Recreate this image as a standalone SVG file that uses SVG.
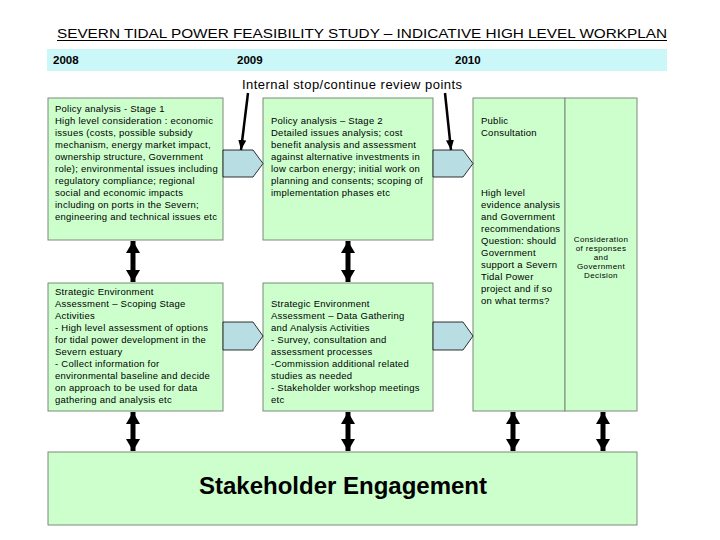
<svg xmlns="http://www.w3.org/2000/svg" width="720" height="540" viewBox="0 0 720 540">
<defs>
<style>
text{font-family:"Liberation Sans",Arial,sans-serif;fill:#000}
.box{fill:#ccffcc;stroke:#7a8a7a;stroke-width:1}
.chev{fill:#b8dde3;stroke:#000;stroke-width:0.8}
.t{font-size:9.5px;letter-spacing:0.25px}
.s{font-size:8px;letter-spacing:0.4px}
.dbl{stroke:#000;stroke-width:5;marker-start:url(#hs);marker-end:url(#he)}
.rev{stroke:#000;stroke-width:2.5;marker-end:url(#ra)}
</style>
<marker id="he" markerUnits="userSpaceOnUse" viewBox="0 0 12 14" refX="12" refY="7" markerWidth="12" markerHeight="14" orient="auto"><path d="M0,0L12,7L0,14Z" fill="#000"/></marker>
<marker id="hs" markerUnits="userSpaceOnUse" viewBox="0 0 12 14" refX="0" refY="7" markerWidth="12" markerHeight="14" orient="auto"><path d="M12,0L0,7L12,14Z" fill="#000"/></marker>
<marker id="ra" markerUnits="userSpaceOnUse" viewBox="0 0 10 8" refX="10" refY="4" markerWidth="10" markerHeight="8" orient="auto"><path d="M0,0L10,4L0,8Z" fill="#000"/></marker>
</defs>
<rect width="720" height="540" fill="#fff"/>
<g id="title">
<text x="57" y="38" font-size="13.5" textLength="610" lengthAdjust="spacingAndGlyphs">SEVERN TIDAL POWER FEASIBILITY STUDY – INDICATIVE HIGH LEVEL WORKPLAN</text>
<line x1="57" y1="40.5" x2="667" y2="40.5" stroke="#000" stroke-width="1"/>
</g>
<g id="timeline">
<rect x="47" y="49" width="620" height="22" fill="#ccf7f9"/>
<text x="53" y="64" font-size="11.5" font-weight="bold">2008</text>
<text x="237" y="64" font-size="11.5" font-weight="bold">2009</text>
<text x="455" y="64" font-size="11.5" font-weight="bold">2010</text>
</g>
<g id="review-label">
<text x="242" y="89" font-size="13" textLength="220" lengthAdjust="spacing">Internal stop/continue review points</text>
</g>
<g id="policy1">
<rect class="box" x="48" y="98" width="175" height="142"/>
<text class="t" x="55" y="112">Policy analysis - Stage 1</text>
<text class="t" x="55" y="124">High level consideration : economic</text>
<text class="t" x="55" y="136">issues (costs, possible subsidy</text>
<text class="t" x="55" y="148">mechanism, energy market impact,</text>
<text class="t" x="55" y="160">ownership structure, Government</text>
<text class="t" x="55" y="172">role); environmental issues including</text>
<text class="t" x="55" y="184">regulatory compliance; regional</text>
<text class="t" x="55" y="196">social and economic impacts</text>
<text class="t" x="55" y="208">including on ports in the Severn;</text>
<text class="t" x="55" y="220">engineering and technical issues etc</text>
</g>
<g id="policy2">
<rect class="box" x="263" y="98" width="170" height="142"/>
<text class="t" x="271" y="124">Policy analysis – Stage 2</text>
<text class="t" x="271" y="136">Detailed issues analysis; cost</text>
<text class="t" x="271" y="148">benefit analysis and assessment</text>
<text class="t" x="271" y="160">against alternative investments in</text>
<text class="t" x="271" y="172">low carbon energy; initial work on</text>
<text class="t" x="271" y="184">planning and consents; scoping of</text>
<text class="t" x="271" y="196">implementation phases etc</text>
</g>
<g id="sea1">
<rect class="box" x="48" y="283" width="175" height="128"/>
<text class="t" x="55" y="295">Strategic Environment</text>
<text class="t" x="55" y="307">Assessment – Scoping Stage</text>
<text class="t" x="55" y="319">Activities</text>
<text class="t" x="55" y="331">- High level assessment of options</text>
<text class="t" x="55" y="343">for tidal power development in the</text>
<text class="t" x="55" y="355">Severn estuary</text>
<text class="t" x="55" y="367">- Collect information for</text>
<text class="t" x="55" y="379">environmental baseline and decide</text>
<text class="t" x="55" y="391">on approach to be used for data</text>
<text class="t" x="55" y="403">gathering and analysis etc</text>
</g>
<g id="sea2">
<rect class="box" x="263" y="283" width="170" height="128"/>
<text class="t" x="271" y="307">Strategic Environment</text>
<text class="t" x="271" y="319">Assessment – Data Gathering</text>
<text class="t" x="271" y="331">and Analysis Activities</text>
<text class="t" x="271" y="343">- Survey, consultation and</text>
<text class="t" x="271" y="355">assessment processes</text>
<text class="t" x="271" y="367">-Commission additional related</text>
<text class="t" x="271" y="379">studies as needed</text>
<text class="t" x="271" y="391">- Stakeholder workshop meetings</text>
<text class="t" x="271" y="403">etc</text>
</g>
<g id="consultation">
<rect class="box" x="473" y="98" width="92" height="313"/>
<text class="t" x="481" y="124">Public</text>
<text class="t" x="481" y="136">Consultation</text>
<text class="t" x="481" y="196">High level</text>
<text class="t" x="481" y="208">evidence analysis</text>
<text class="t" x="481" y="220">and Government</text>
<text class="t" x="481" y="232">recommendations</text>
<text class="t" x="481" y="244">Question: should</text>
<text class="t" x="481" y="256">Government</text>
<text class="t" x="481" y="268">support a Severn</text>
<text class="t" x="481" y="280">Tidal Power</text>
<text class="t" x="481" y="292">project and if so</text>
<text class="t" x="481" y="304">on what terms?</text>
</g>
<g id="decision">
<rect class="box" x="565" y="98" width="72" height="313"/>
<text class="s" x="601" y="242" text-anchor="middle">Consideration</text>
<text class="s" x="601" y="251" text-anchor="middle">of responses</text>
<text class="s" x="601" y="260" text-anchor="middle">and</text>
<text class="s" x="601" y="269" text-anchor="middle">Government</text>
<text class="s" x="601" y="278" text-anchor="middle">Decision</text>
</g>
<g id="stakeholder">
<rect class="box" x="48" y="452" width="589" height="73"/>
<text x="343" y="494" font-size="24" font-weight="bold" text-anchor="middle">Stakeholder Engagement</text>
</g>
<g id="review-points">
<path class="chev" d="M223,150H253L263,163.5L253,177H223Z"/>
<path class="chev" d="M433,150H463L473,163.5L463,177H433Z"/>
<path class="chev" d="M223,322H253L263,336L253,350H223Z"/>
<path class="chev" d="M433,322H463L473,336L463,350H433Z"/>
</g>
<g id="connectors">
<line class="rev" x1="248" y1="93" x2="241" y2="150"/>
<line class="rev" x1="445" y1="93" x2="451" y2="150"/>
<line class="dbl" x1="133" y1="241" x2="133" y2="282"/>
<line class="dbl" x1="348" y1="241" x2="348" y2="282"/>
<line class="dbl" x1="133" y1="412" x2="133" y2="451"/>
<line class="dbl" x1="348" y1="412" x2="348" y2="451"/>
<line class="dbl" x1="513" y1="412" x2="513" y2="451"/>
<line class="dbl" x1="603" y1="412" x2="603" y2="451"/>
</g>
</svg>
